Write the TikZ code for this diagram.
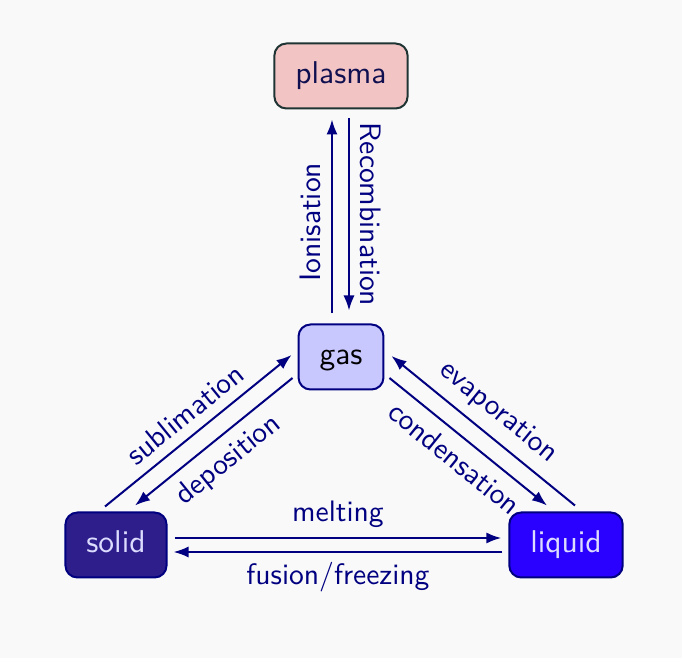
\documentclass[tikz,border=0pt]{standalone}
\usepackage{fontspec}
\setsansfont{lmsans10-regular.otf}
\usetikzlibrary{arrows.meta,calc}
\definecolor{bgcol}{RGB}{249,249,249}
\definecolor{edgecol}{RGB}{0,0,128}
\definecolor{plasmafill}{RGB}{242,196,196}
\definecolor{plasmadraw}{RGB}{32,52,52}
\definecolor{plasmatext}{RGB}{16,16,80}
\definecolor{gasfill}{RGB}{200,200,255}
\definecolor{solidfill}{RGB}{46,30,140}
\definecolor{liquidfill}{RGB}{42,0,255}
\definecolor{lighttext}{RGB}{220,220,255}
\begin{document}
\begin{tikzpicture}[x=0.5pt,y=-0.5pt,
  state/.style={draw=edgecol, line width=1pt, rounded corners=6pt,
    inner xsep=10.5pt, inner ysep=0pt, minimum height=32.5pt,
    text height=11pt, text depth=3.5pt,
    font=\sffamily\fontsize{15.75}{19}\selectfont},
  trans/.style={draw=edgecol, line width=1pt, -{Latex[length=7.5pt,width=5.6pt]}},
  lbl/.style={text=edgecol, inner sep=4.9pt, font=\sffamily\fontsize{14.8}{18}\selectfont}]
\fill[bgcol] (0,0) rectangle (682,658);
\useasboundingbox (0,0) rectangle (682,658);

\node[state, fill=plasmafill, draw=plasmadraw, text=plasmatext] (plasma) at (341,76) {plasma};
\node[state, fill=gasfill, text=black] (gas) at (341,357) {gas};
\node[state, fill=solidfill, text=lighttext] (solid) at (116,545) {solid};
\node[state, fill=liquidfill, text=lighttext] (liquid) at (566,545) {liquid};

\draw[trans] ($(gas.north)+(-9,-10)$) -- node[lbl, pos=0.47, rotate=90, anchor=south] {Ionisation} ($(plasma.south)+(-9,10)$);
\draw[trans] ($(plasma.south)+(8,9)$) -- node[lbl, midway, rotate=-90, anchor=south] {Recombination} ($(gas.north)+(8,-13)$);

\draw[trans] ($(solid.east)+(7,-7)$) -- node[lbl, midway, above] {melting} ($(liquid.west)+(-7,-7)$);
\draw[trans] ($(liquid.west)+(-6,7)$) -- node[lbl, midway, below] {fusion/freezing} ($(solid.east)+(6,7)$);

\draw[trans] ($(solid.north)+(-11,-5)$) -- node[lbl, midway, sloped, above] {sublimation} ($(gas.west)+(-6,-2)$);
\draw[trans] ($(gas.west)+(-5,21)$) -- node[lbl, midway, sloped, below] {deposition} ($(solid.north)+(19,-6)$);

\draw[trans] ($(liquid.north)+(9,-6)$) -- node[lbl, midway, sloped, above] {evaporation} ($(gas.east)+(7,-1)$);
\draw[trans] ($(gas.east)+(5,21)$) -- node[lbl, midway, sloped, below] {condensation} ($(liquid.north)+(-19,-6)$);
\end{tikzpicture}
\end{document}
